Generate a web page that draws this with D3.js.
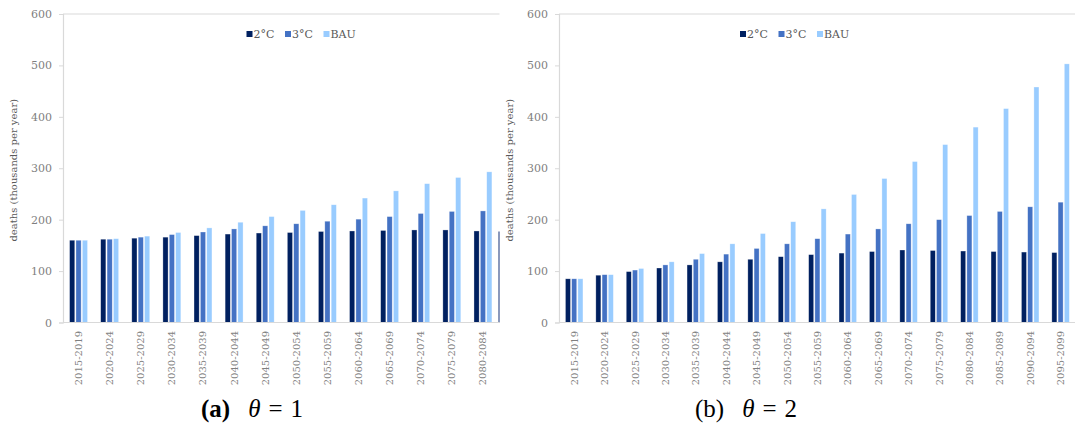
<!DOCTYPE html>
<html>
<head>
<meta charset="utf-8">
<script src="https://cdn.jsdelivr.net/npm/d3@7/dist/d3.min.js"></script>
<style>
  html, body { margin: 0; padding: 0; background: #fff; }
  svg { display: block; }
</style>
</head>
<body>
<svg id="chart" width="1075" height="432"></svg>
<script>
// ---------- data ----------
const seriesNames = ["2°C", "3°C", "BAU"];
const seriesColors = ["#002060", "#4472C4", "#99CCFF"];
const yTicks = [0, 100, 200, 300, 400, 500, 600];

const categoriesA = ["2015-2019","2020-2024","2025-2029","2030-2034","2035-2039","2040-2044","2045-2049",
  "2050-2054","2055-2059","2060-2064","2065-2069","2070-2074","2075-2079","2080-2084"];
const a2C  = [160,162,164,166,169,172,174,175,177,178,179,180,180,178];
const a3C  = [160,162,166,171,176,182,188,192,197,201,206,212,216,217];
const aBAU = [160,163,168,175,184,195,206,218,229,242,256,270,282,293];
const aClippedNext2C = [177]; // edge of the next (cut-off) 2°C bar at the right border

const categoriesB = ["2015-2019","2020-2024","2025-2029","2030-2034","2035-2039","2040-2044","2045-2049",
  "2050-2054","2055-2059","2060-2064","2065-2069","2070-2074","2075-2079","2080-2084","2085-2089",
  "2090-2094","2095-2099"];
const b2C  = [85,92,99,106,112,118,123,128,132,135,138,141,140,139,138,137,136];
const b3C  = [85,93,102,112,123,133,144,153,163,172,182,192,200,208,216,225,234];
const bBAU = [85,93,105,118,134,153,173,196,221,249,280,313,346,380,416,458,503];

// ---------- drawing ----------
const svg = d3.select("#chart");
const serif = "'DejaVu Serif', serif";

function panel(cfg) {
  const g = svg.append("g");
  const x = d3.scaleBand().domain(cfg.categories).range([cfg.x0, cfg.x1])
    .paddingInner(0.385).paddingOuter(0.1925);
  const xs = d3.scaleBand().domain(seriesNames).range([0, x.bandwidth()]);
  const y = d3.scaleLinear().domain([0, 600]).range([322.5, 14]);

  // top border line at 600
  g.append("line").attr("x1", cfg.x0).attr("x2", cfg.lineEnd)
    .attr("y1", y(600)).attr("y2", y(600))
    .attr("stroke", "#d9d9d9").attr("stroke-width", 1.2);

  // bars
  const rows = cfg.categories.map((c, i) => ({ c, v: cfg.values.map(arr => arr[i]) }));
  const grp = g.selectAll("g.grp").data(rows).join("g")
    .attr("transform", d => `translate(${x(d.c)},0)`);
  grp.selectAll("rect").data(d => d.v.map((v, k) => ({ v, k })))
    .join("rect")
    .attr("x", d => xs(seriesNames[d.k]) + 0.6)
    .attr("width", xs.bandwidth() - 1.2)
    .attr("y", d => y(d.v))
    .attr("height", d => y(0) - y(d.v))
    .attr("fill", d => seriesColors[d.k])
    .attr("stroke", "#ffffff").attr("stroke-opacity", 0.5).attr("stroke-width", 0.6);

  if (cfg.clipped) {
    g.selectAll("line.clip").data(cfg.clipped).join("line")
      .attr("x1", cfg.lineEnd - 0.5).attr("x2", cfg.lineEnd - 0.5)
      .attr("y1", d => y(d)).attr("y2", y(0))
      .attr("stroke", "#3d5590").attr("stroke-width", 1.2);
  }

  // baseline
  g.append("line").attr("x1", cfg.x0).attr("x2", cfg.lineEnd)
    .attr("y1", y(0)).attr("y2", y(0))
    .attr("stroke", "#d9d9d9").attr("stroke-width", 1.2);

  // y axis
  const ya = g.append("g").attr("transform", `translate(${cfg.x0},0)`)
    .call(d3.axisLeft(y).tickValues(yTicks).tickSize(4).tickPadding(7));
  ya.select(".domain").attr("stroke", "#d9d9d9").attr("stroke-width", 1.2);
  ya.selectAll(".tick line").attr("stroke", "#d9d9d9");
  ya.selectAll(".tick text").attr("fill", "#7f7f7f")
    .style("font-family", serif).style("font-size", "11px");

  // x labels (rotated)
  g.selectAll("text.xl").data(cfg.categories).join("text")
    .attr("class", "xl")
    .attr("transform", d => `translate(${x(d) + x.bandwidth() / 2},331) rotate(-90)`)
    .attr("text-anchor", "end").attr("dy", "0.35em")
    .attr("fill", "#7f7f7f")
    .style("font-family", serif).style("font-size", "10px")
    .text(d => d);

  // y axis title
  g.append("text")
    .attr("transform", `translate(${cfg.x0 - 50},${(y(0) + y(600)) / 2 + 2}) rotate(-90)`)
    .attr("text-anchor", "middle").attr("dy", "0.35em")
    .attr("fill", "#595959")
    .style("font-family", serif).style("font-size", "10px")
    .text("deaths (thousands per year)");

  // legend
  const lg = g.append("g").selectAll("g").data(seriesNames).join("g")
    .attr("transform", (d, i) => `translate(${cfg.legendX[i]},34)`);
  lg.append("rect").attr("x", 0).attr("y", -3).attr("width", 6).attr("height", 6)
    .attr("fill", (d, i) => seriesColors[i]);
  lg.append("text").attr("x", 7).attr("y", 0).attr("dy", "0.35em")
    .attr("fill", "#595959")
    .style("font-family", serif).style("font-size", "11px")
    .text(d => d);

  // caption
  const cap = g.append("text").attr("x", cfg.capX).attr("y", 417)
    .attr("text-anchor", "middle")
    .style("font-family", "'Liberation Serif', serif").style("font-size", "25px")
    .attr("fill", "#000");
  cap.append("tspan").style("font-weight", cfg.capBold ? "bold" : "normal").text(cfg.capLabel);
  cap.append("tspan").attr("dx", 18).style("font-style", "italic").text("θ");
  cap.append("tspan").attr("dx", 8).text("=");
  cap.append("tspan").attr("dx", 8).text(cfg.theta);
}

panel({
  categories: categoriesA, values: [a2C, a3C, aBAU], clipped: aClippedNext2C,
  x0: 63, x1: 498.5, lineEnd: 499.5,
  legendX: [246.5, 285, 323.5],
  capX: 252, capLabel: "(a)", capBold: true, theta: "1"
});
panel({
  categories: categoriesB, values: [b2C, b3C, bBAU],
  x0: 559, x1: 1075.8, lineEnd: 1075,
  legendX: [740, 778.5, 817],
  capX: 746, capLabel: "(b)", capBold: false, theta: "2"
});
</script>
</body>
</html>
